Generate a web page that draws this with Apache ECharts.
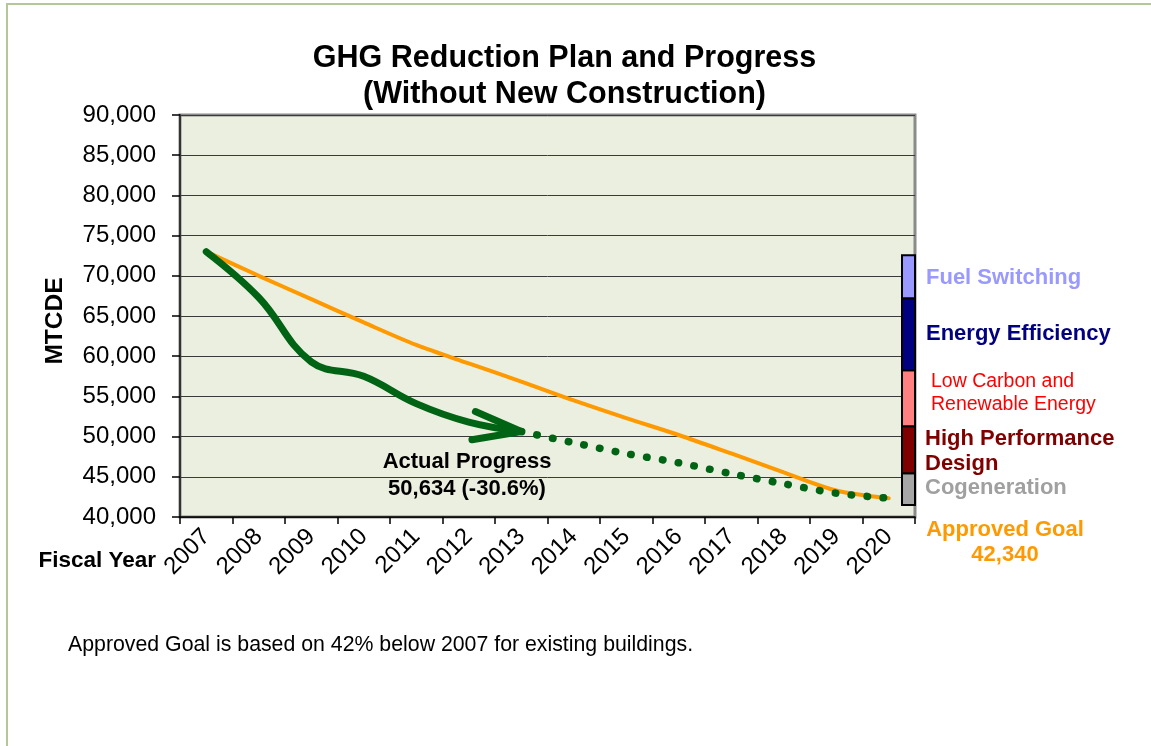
<!DOCTYPE html>
<html>
<head>
<meta charset="utf-8">
<script src="https://cdn.jsdelivr.net/npm/echarts/dist/echarts.min.js"></script>
<style>
html,body{margin:0;padding:0;background:#ffffff;}
#chart{width:1151px;height:746px;}
</style>
</head>
<body>
<div id="chart"></div>
<script>
// ---------- data ----------
const years = ['2007','2008','2009','2010','2011','2012','2013','2014','2015','2016','2017','2018','2019','2020'];
const goalValues = [73000, 70000, 67100, 64200, 61400, 59100, 56850, 54500, 52300, 50200, 47900, 45550, 43300, 42340];
const actualValues = [73000, 67300, 59300, 57500, 54100, 51800, 50634, null, null, null, null, null, null, null];
const projectedValues = [null, null, null, null, null, null, 50634, 49230, 47880, 46740, 45380, 44130, 42960, 42340];
const yMin = 40000, yMax = 90000, yStep = 5000;
const strategyNames = ['Cogeneration', 'High Performance Design', 'Low Carbon and Renewable Energy', 'Energy Efficiency', 'Fuel Switching'];
const strategyReductions = [3950, 5850, 6950, 8950, 5350];
const strategyBase = 41500;
const strategyColors = ['#a6a6a6', '#800000', '#ff8080', '#000080', '#9999ff'];

const green = '#006414';
const orange = '#ff9900';
const FONT = '"Liberation Sans", Arial, sans-serif';

// stacked strategy segments
let acc = strategyBase;
const strategySegments = strategyReductions.map((v) => {
  const seg = [years.length - 1, acc, acc + v];
  acc += v;
  return seg;
});

const chart = echarts.init(document.getElementById('chart'), null, {renderer: 'canvas'});

function txt(text, x, y, opts) {
  return {
    type: 'text', x: x, y: y, silent: true, z: 50,
    style: Object.assign({
      text: text, fontFamily: FONT, fontSize: 22, fontWeight: 'bold',
      fill: '#000', align: 'left', verticalAlign: 'middle'
    }, opts || {})
  };
}

const option = {
  backgroundColor: '#ffffff',
  animation: false,
  title: {
    text: 'GHG Reduction Plan and Progress\n(Without New Construction)',
    left: 564.5, top: 41, textAlign: 'center', padding: 0,
    textStyle: {fontFamily: FONT, fontSize: 30.5, fontWeight: 'bold', color: '#000', lineHeight: 36}
  },
  grid: {
    left: 180, top: 115, width: 735, height: 402,
    show: true, backgroundColor: '#ebefdf', borderColor: '#8a8a8a', borderWidth: 3,
    outerBoundsMode: 'none', containLabel: false
  },
  xAxis: {
    type: 'category', data: years, boundaryGap: true,
    axisLine: {show: true, lineStyle: {color: '#000', width: 1.5}},
    axisTick: {show: true, alignWithLabel: false, length: 7, lineStyle: {color: '#000', width: 1.5}},
    axisLabel: {rotate: 45, fontFamily: FONT, fontSize: 24, color: '#000', margin: 16, interval: 0},
    splitLine: {show: false}
  },
  yAxis: {
    type: 'value', min: yMin, max: yMax, interval: yStep,
    axisLine: {show: true, lineStyle: {color: '#333', width: 2}},
    axisTick: {show: true, length: 8, lineStyle: {color: '#000', width: 1.5}},
    axisLabel: {fontFamily: FONT, fontSize: 24, color: '#000', margin: 24,
      formatter: (v) => v.toLocaleString('en-US')},
    splitLine: {show: true, lineStyle: {color: '#3a3a3a', width: 1}}
  },
  series: [
    {
      name: 'Approved Goal', type: 'line', data: goalValues, smooth: 0.3,
      showSymbol: false, symbol: 'none',
      lineStyle: {color: orange, width: 4, cap: 'round'}, z: 3
    },
    {
      name: 'Projected', type: 'line', data: projectedValues, smooth: 0.3,
      showSymbol: false, symbol: 'none', connectNulls: false,
      lineStyle: {color: green, width: 7.5, type: [0.5, 15.5], cap: 'round'}, z: 4
    },
    {
      name: 'Actual Progress', type: 'line', data: actualValues, smooth: 0.4,
      showSymbol: false, symbol: 'none',
      lineStyle: {color: green, width: 7, cap: 'round', join: 'round'}, z: 4
    },
    {
      name: 'Arrowhead', type: 'custom', silent: true, z: 5,
      data: [[6, actualValues[6]]],
      encode: {x: 0, y: 1},
      renderItem: function (params, api) {
        const tip = api.coord([api.value(0), api.value(1)]);
        const L = 50;
        const a1 = 203.5 * Math.PI / 180, a2 = 170.5 * Math.PI / 180;
        return {
          type: 'polyline',
          shape: {points: [
            [tip[0] + L * Math.cos(a1), tip[1] + L * Math.sin(a1)],
            tip,
            [tip[0] + L * Math.cos(a2), tip[1] + L * Math.sin(a2)]
          ]},
          style: {stroke: green, lineWidth: 7, lineCap: 'round', lineJoin: 'round', fill: null}
        };
      }
    },
    {
      name: 'Strategies', type: 'custom', silent: true, z: 6,
      data: strategySegments,
      encode: {x: 0, y: [1, 2]},
      renderItem: function (params, api) {
        const pBottom = api.coord([api.value(0), api.value(1)]);
        const pTop = api.coord([api.value(0), api.value(2)]);
        const cs = params.coordSys;
        const w = 13;
        return {
          type: 'rect',
          shape: {x: cs.x + cs.width - w, y: pTop[1], width: w, height: pBottom[1] - pTop[1]},
          style: {fill: strategyColors[params.dataIndex], stroke: '#000', lineWidth: 2}
        };
      }
    }
  ],
  graphic: [
    {type: 'rect', silent: true, z: 0, shape: {x: 7, y: 4, width: 1200, height: 800},
      style: {fill: null, stroke: '#b5c69a', lineWidth: 2}},
    txt('MTCDE', 55, 321, {align: 'center', fontSize: 24.5}),
    txt('Fiscal Year', 156, 561, {align: 'right', fontSize: 22.5}),
    txt('Actual Progress', 467, 462, {align: 'center'}),
    txt('50,634 (-30.6%)', 467, 489, {align: 'center'}),
    txt('Fuel Switching', 926, 278, {fill: '#9999ff'}),
    txt('Energy Efficiency', 926, 334, {fill: '#000080'}),
    txt('Low Carbon and', 931, 382, {fill: '#ff0000', fontWeight: 'normal', fontSize: 19.5}),
    txt('Renewable Energy', 931, 405, {fill: '#ff0000', fontWeight: 'normal', fontSize: 19.5}),
    txt('High Performance', 925, 439, {fill: '#800000'}),
    txt('Design', 925, 464, {fill: '#800000'}),
    txt('Cogeneration', 925, 488, {fill: '#a0a0a0'}),
    txt('Approved Goal', 1005, 530, {fill: orange, align: 'center'}),
    txt('42,340', 1005, 555, {fill: orange, align: 'center'}),
    txt('Approved Goal is based on 42% below 2007 for existing buildings.', 68, 645,
      {fontWeight: 'normal', fontSize: 21.3})
  ]
};
// rotate the MTCDE label
option.graphic[1].rotation = Math.PI / 2;

chart.setOption(option);
</script>
</body>
</html>
